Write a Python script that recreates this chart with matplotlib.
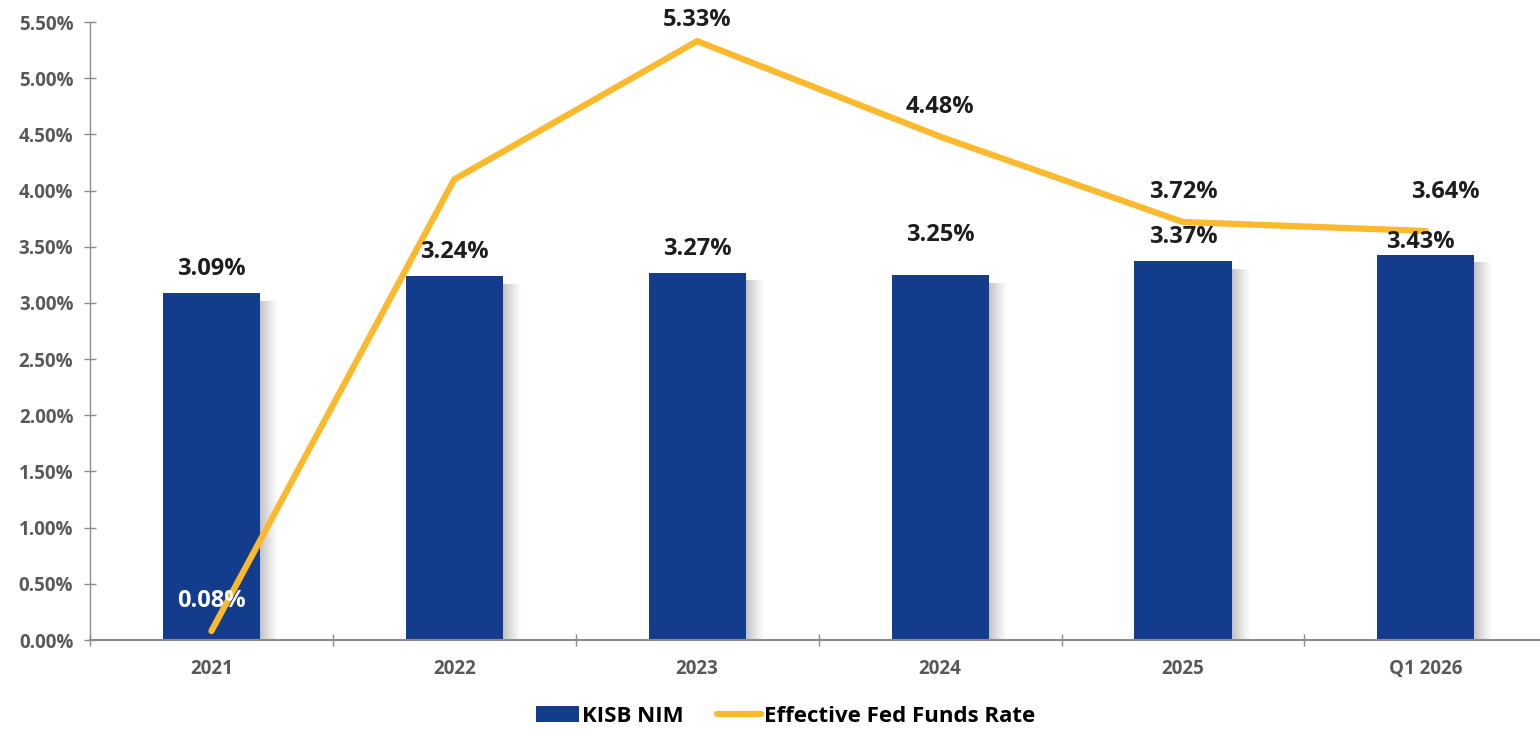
#!/usr/bin/env python3
"""Bar + line chart: KISB NIM vs Effective Fed Funds Rate."""

import numpy as np
import matplotlib
matplotlib.use("Agg")
import matplotlib.pyplot as plt
from matplotlib.ticker import FuncFormatter, MultipleLocator

CATEGORIES = ["2021", "2022", "2023", "2024", "2025", "Q1 2026"]
NIM = [3.09, 3.24, 3.27, 3.25, 3.37, 3.43]
FED = [0.08, 4.10, 5.33, 4.48, 3.72, 3.64]
FED_LABELLED = [True, False, True, True, True, True]

# label offsets in pixels (dx, dy) as placed in the original
NIM_OFFS = [(0, 24), (0, 24), (0, 24), (0, 40), (0, 24), (-5, 13)]
FED_OFFS = [(0, 30), (0, 0), (0, 21), (0, 30), (0, 30), (20, 39)]

BLUE = "#143C8C"
GOLD = "#FBB92E"
AXIS_GREY = "#595959"
SPINE_GREY = "#8C8C8C"
LABEL_DARK = "#1E1E1E"

plt.rcParams["font.family"] = ["Open Sans", "DejaVu Sans"]
plt.rcParams["font.weight"] = "bold"


def main():
    fig = plt.figure(figsize=(15.4, 7.29), dpi=100)
    ax = fig.add_axes([90 / 1540, 1 - 640 / 729, 1 - 90 / 1540, (640 - 22) / 729])
    x = np.arange(len(CATEGORIES))
    width = 0.4
    px = 1 / 243  # one pixel in category units

    # soft shadow to the right of each bar
    steps = 18
    for k in range(steps):
        a = 0.6 * (1 - k / steps) ** 1.2
        ax.bar(x + width / 2 + k * px, np.array(NIM) - 0.07, width=px, align="edge",
               color="#9a9a9a", alpha=a, linewidth=0, zorder=1)

    bars = ax.bar(x, NIM, width=width, color=BLUE, zorder=2)
    line, = ax.plot(x, FED, color=GOLD, linewidth=4.5, solid_capstyle="round",
                    solid_joinstyle="miter", zorder=3)

    for i, v in enumerate(NIM):
        dx, dy = NIM_OFFS[i]
        ax.annotate(f"{v:.2f}%", (x[i], v), xytext=(dx * 0.72, dy * 0.72),
                    textcoords="offset points", ha="center", va="center",
                    fontsize=17, fontweight="bold", color=LABEL_DARK, zorder=4)
    for i, v in enumerate(FED):
        if not FED_LABELLED[i]:
            continue
        dx, dy = FED_OFFS[i]
        col = "white" if i == 0 else LABEL_DARK
        ax.annotate(f"{v:.2f}%", (x[i], v), xytext=(dx * 0.72, dy * 0.72),
                    textcoords="offset points", ha="center", va="center",
                    fontsize=17, fontweight="bold", color=col, zorder=4)

    ax.set_xlim(-0.5, 5.47)
    ax.set_ylim(0, 5.5)
    ax.yaxis.set_major_locator(MultipleLocator(0.5))
    ax.yaxis.set_major_formatter(FuncFormatter(lambda v, _: f"{v:.2f}%"))
    ax.set_xticks(x)
    ax.set_xticklabels(CATEGORIES)
    ax.set_xticks(np.arange(-0.5, 5.5, 1.0), minor=True)
    ax.tick_params(axis="x", which="major", length=0, pad=14,
                   labelsize=13.5, labelcolor=AXIS_GREY)
    ax.tick_params(axis="x", which="minor", length=8, direction="inout",
                   color=SPINE_GREY, width=1)
    ax.tick_params(axis="y", length=8, direction="inout", color=SPINE_GREY,
                   width=1, labelsize=13.5, labelcolor=AXIS_GREY, pad=8)
    for lab in ax.get_xticklabels() + ax.get_yticklabels():
        lab.set_fontweight("bold")

    for s in ["top", "right"]:
        ax.spines[s].set_visible(False)
    ax.spines["left"].set_color(SPINE_GREY)
    ax.spines["bottom"].set_color(SPINE_GREY)
    ax.spines["bottom"].set_linewidth(1.5)
    ax.spines["left"].set_linewidth(1)

    leg = fig.legend([bars, line], ["KISB NIM", "Effective Fed Funds Rate"],
                     loc="center", bbox_to_anchor=(0.51, 1 - 716 / 729), ncol=2,
                     frameon=False, fontsize=16, handlelength=1.95,
                     handleheight=0.7, handletextpad=0.15, columnspacing=1.5)
    for t in leg.get_texts():
        t.set_fontweight("bold")
        t.set_color("black")

    fig.savefig("out.png", dpi=100, facecolor="white")


if __name__ == "__main__":
    main()
